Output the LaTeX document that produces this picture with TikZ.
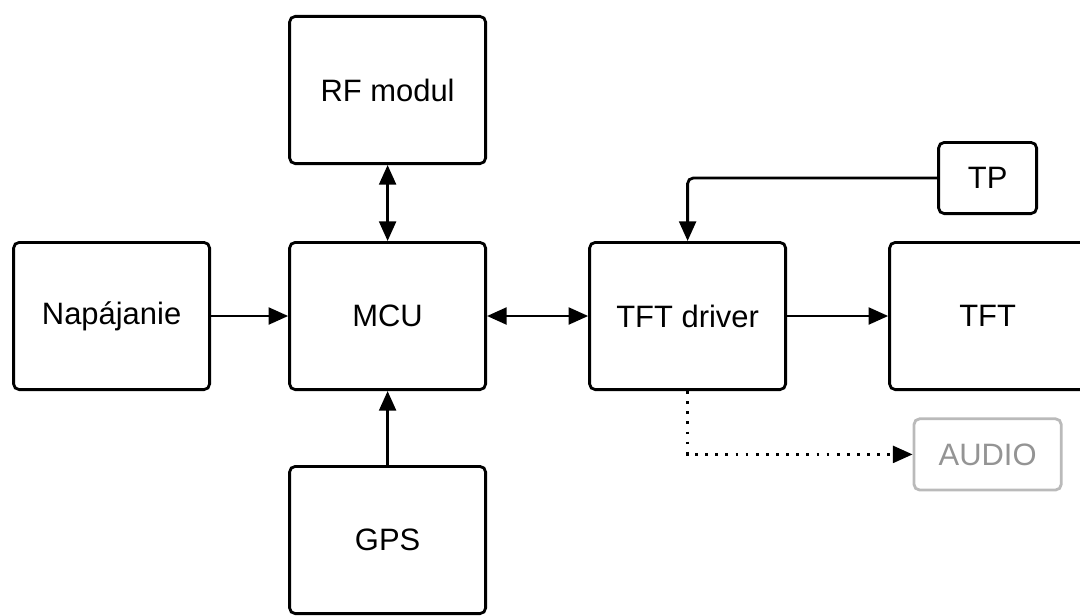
\documentclass[tikz,border=0pt]{standalone}
\usepackage{fontspec}
\setmainfont{Liberation Sans}
\usetikzlibrary{positioning,arrows.meta}
\tikzset{
  blok/.style={draw,line width=2pt,rounded corners=4pt,minimum width=4.9cm,minimum height=3.68cm,font=\fontsize{22}{26}\selectfont},
  malyblok/.style={blok,minimum width=2.45cm,minimum height=1.78cm},
  sipka/.style={line width=2pt,-{Triangle[length=14pt,width=12pt]}},
  obojsip/.style={line width=2pt,{Triangle[length=14pt,width=12pt]}-{Triangle[length=14pt,width=12pt]}}
}
\begin{document}
\begin{tikzpicture}[node distance=7.5cm]
        \useasboundingbox (0,0) rectangle (27,-15.375);
        \node(MCU)[blok] at (9.69,-7.9) {MCU};
        \node(RF)[blok,above of=MCU,node distance=5.65cm] {RF modul};
        \node(GPS)[blok,below of=MCU,node distance=5.6cm] {GPS};
        \node(NAP)[blok,left of=MCU,node distance=6.9cm] {Napájanie};
        \node(DRV)[blok,right of=MCU] {TFT driver};
        \node(TFT)[blok,right of=DRV] {TFT};
        \node(TP)[malyblok,above of=TFT,node distance=3.45cm] {TP};
        \node(AUD)[malyblok,below of=TFT,node distance=3.46cm,minimum width=3.68cm,draw=black!27,text=black!42] {AUDIO};
        \draw[sipka](NAP) -- (MCU);
        \draw[obojsip](RF) -- (MCU);
        \draw[sipka](GPS) -- (MCU);
        \draw[obojsip](MCU) -- (DRV);
        \draw[sipka](DRV) -- (TFT);
        \draw[sipka,rounded corners=4pt](TP.west) -| (DRV.north);
        \draw[sipka,dash pattern=on 2pt off 5.2pt](DRV.south) |- (AUD.west);
    \end{tikzpicture}
\end{document}
